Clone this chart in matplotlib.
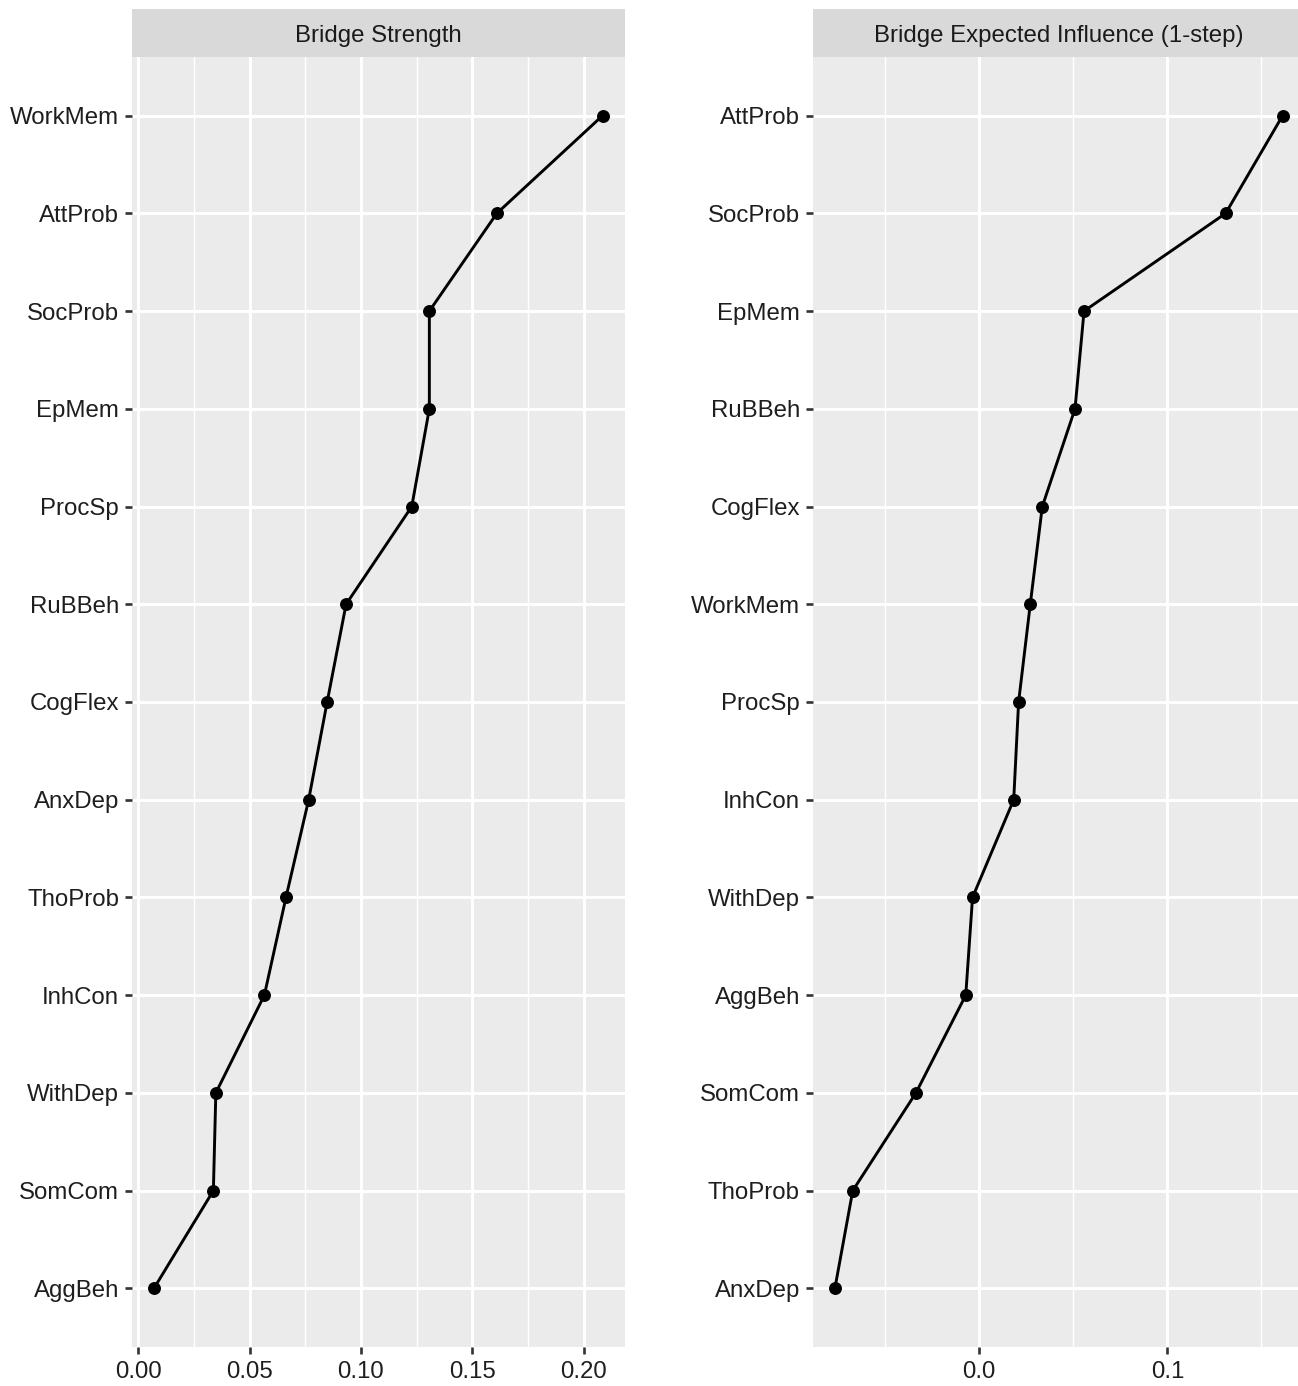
import matplotlib
matplotlib.use("Agg")
import matplotlib.pyplot as plt
from matplotlib.ticker import MultipleLocator, FuncFormatter

plt.rcParams['font.family'] = ['Liberation Sans', 'DejaVu Sans']

# Bridge centrality estimates per node (top row first)
strength_nodes = ["WorkMem", "AttProb", "SocProb", "EpMem", "ProcSp", "RuBBeh", "CogFlex",
                  "AnxDep", "ThoProb", "InhCon", "WithDep", "SomCom", "AggBeh"]
strength_values = [0.2085, 0.1610, 0.1307, 0.1307, 0.1228, 0.0933, 0.0848,
                   0.0765, 0.0663, 0.0566, 0.0348, 0.0337, 0.0070]

ei_nodes = ["AttProb", "SocProb", "EpMem", "RuBBeh", "CogFlex", "WorkMem", "ProcSp",
            "InhCon", "WithDep", "AggBeh", "SomCom", "ThoProb", "AnxDep"]
ei_values = [0.1613, 0.1310, 0.0557, 0.0509, 0.0335, 0.0271, 0.0209,
             0.0183, -0.0036, -0.0072, -0.0337, -0.0673, -0.0768]

panel_titles = ["Bridge Strength", "Bridge Expected Influence (1-step)"]

W, H = 1298, 1386
fig = plt.figure(figsize=(W / 100, H / 100), dpi=100)

panel_bottom = (H - 1347) / H
panel_height = 1290 / H
strip_height = 48 / H

PANEL_BG = "#EBEBEB"
STRIP_BG = "#D9D9D9"
TEXT_SIZE = 17.3


def draw_panel(left_px, width_px, nodes, values, title, major, minor, fmt):
    ax = fig.add_axes([left_px / W, panel_bottom, width_px / W, panel_height])
    ax.set_facecolor(PANEL_BG)
    n = len(nodes)
    ypos = list(range(n))
    ax.plot(values, ypos, color="black", lw=2.1, marker="o", ms=8.3, zorder=3)

    lo, hi = min(values), max(values)
    pad = 0.05 * (hi - lo)
    ax.set_xlim(lo - pad, hi + pad)
    ax.set_ylim(n - 1 + 0.6, -0.6)

    ax.set_yticks(ypos)
    ax.set_yticklabels(nodes)
    ax.xaxis.set_major_locator(MultipleLocator(major))
    ax.xaxis.set_minor_locator(MultipleLocator(minor))
    ax.xaxis.set_major_formatter(FuncFormatter(lambda v, p: fmt.format(v + 0.0)))

    ax.set_axisbelow(True)
    ax.grid(which="major", color="white", lw=2.1)
    ax.grid(which="minor", axis="x", color="white", lw=1.05)
    for s in ax.spines.values():
        s.set_visible(False)
    ax.tick_params(which="major", length=5, width=1.9, color="#333333",
                   labelsize=TEXT_SIZE, labelcolor="#1e1e1e", pad=4)
    ax.tick_params(axis="x", which="major", pad=5)
    ax.tick_params(which="minor", length=0)

    strip = fig.add_axes([left_px / W, panel_bottom + panel_height, width_px / W, strip_height])
    strip.set_facecolor(STRIP_BG)
    strip.set_xticks([])
    strip.set_yticks([])
    for s in strip.spines.values():
        s.set_visible(False)
    strip.text(0.5, 0.44, title, ha="center", va="center", fontsize=TEXT_SIZE,
               color="#1A1A1A", transform=strip.transAxes)
    return ax


draw_panel(131.5, 493.5, strength_nodes, strength_values, panel_titles[0], 0.05, 0.025, "{:.2f}")
draw_panel(812.5, 492.5, ei_nodes, ei_values, panel_titles[1], 0.1, 0.05, "{:.1f}")

fig.savefig("out.png", dpi=100, facecolor="white")
